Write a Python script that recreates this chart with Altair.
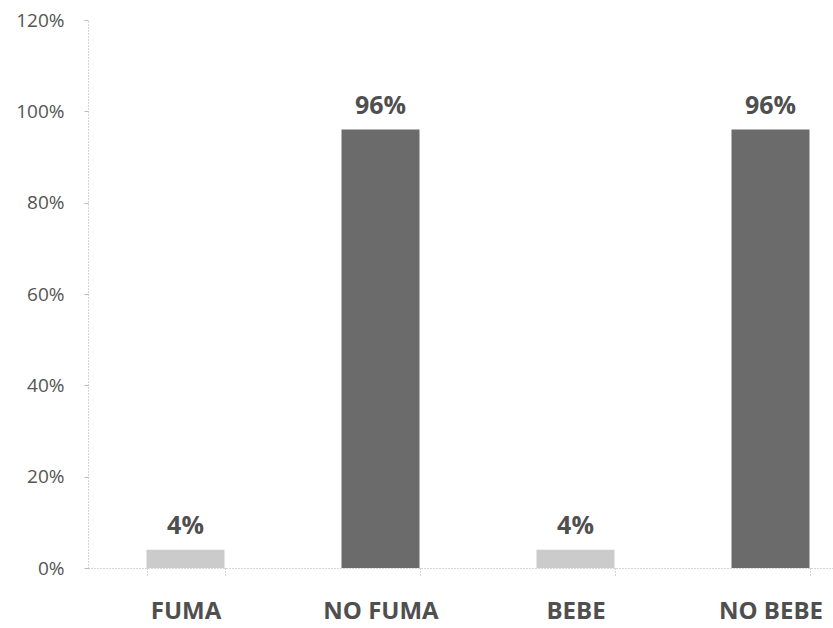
import altair as alt
import pandas as pd

categories = ["FUMA", "NO FUMA", "BEBE", "NO BEBE"]
values = [0.04, 0.96, 0.04, 0.96]
labels = ["4%", "96%", "4%", "96%"]
shade = ["light", "dark", "light", "dark"]

df = pd.DataFrame({"cat": categories, "val": values, "lab": labels, "shade": shade})

FONT = "Open Sans"

x = alt.X("cat:N", sort=categories, title=None,
          scale=alt.Scale(range=[0, 780], paddingInner=0.6, paddingOuter=0.3),
          axis=alt.Axis(labelAngle=0, labelFont=FONT, labelFontSize=24, labelFontWeight="bold",
                        labelColor="#4f4f4f", labelPadding=22, domainColor="#aaaaaa",
                        domainDash=[1, 2], tickBand="extent", tickColor="#aaaaaa",
                        tickDash=[1, 2], tickSize=9, grid=False))
y = alt.Y("val:Q", title=None,
          scale=alt.Scale(domain=[0, 1.2], nice=False),
          axis=alt.Axis(values=[0, 0.2, 0.4, 0.6, 0.8, 1.0, 1.2], format=".0%",
                        labelFont=FONT, labelFontSize=19, labelColor="#555555",
                        labelPadding=20, domainColor="#aaaaaa", domainDash=[1, 2],
                        tickColor="#bbbbbb", tickSize=4, grid=False))

bars = alt.Chart(df).mark_bar().encode(
    x=x, y=y,
    color=alt.Color("shade:N", scale=alt.Scale(domain=["light", "dark"], range=["#cbcbcb", "#6b6b6b"]), legend=None),
)
text = alt.Chart(df).mark_text(dy=-11, baseline="bottom", font=FONT, fontSize=25,
                               fontWeight="bold", color="#4f4f4f").encode(
    x=alt.X("cat:N", sort=categories), y="val:Q", text="lab:N")

chart = (bars + text).properties(width=745, height=548).configure_view(stroke=None).properties(
    autosize=alt.AutoSizeParams(type="none"),
    padding={"left": 88, "top": 20, "right": 0, "bottom": 60},
    background="white",
)

chart.save("out.html", embed_options={"renderer": "svg", "actions": False})
